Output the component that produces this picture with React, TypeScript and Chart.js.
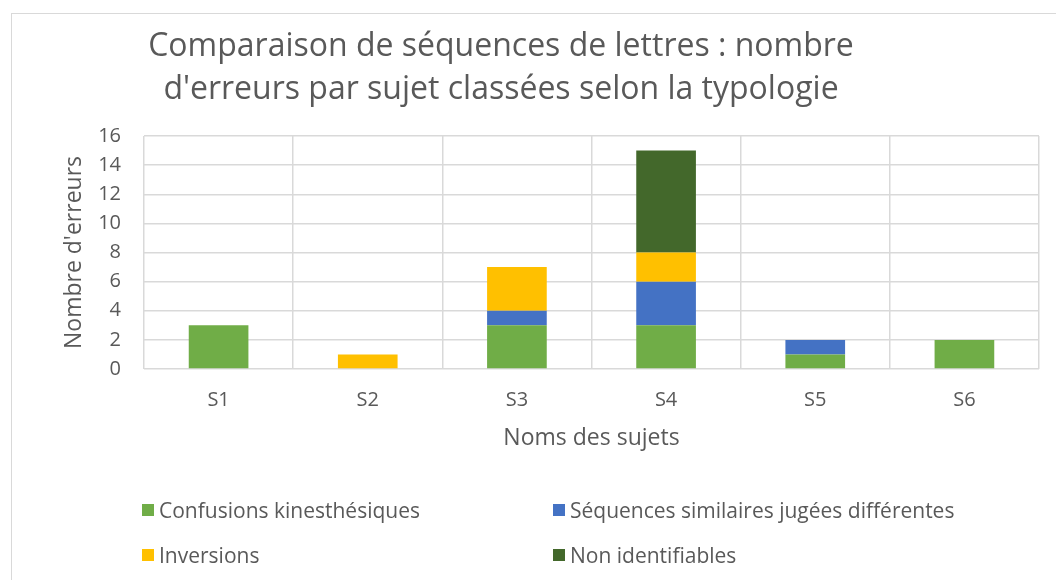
import React, { useEffect, useRef } from "react";
import { Chart, registerables } from "chart.js";

Chart.register(...registerables);

const categories = ["S1", "S2", "S3", "S4", "S5", "S6"];
const seriesNames = [
  "Confusions kinesthésiques",
  "Séquences similaires jugées différentes",
  "Inversions",
  "Non identifiables",
];
const confusions = [3, 0, 3, 3, 1, 2];
const similaires = [0, 0, 1, 3, 1, 0];
const inversions = [0, 1, 3, 2, 0, 0];
const nonIdentifiables = [0, 0, 0, 7, 0, 0];
const seriesColors = ["#70AD47", "#4472C4", "#FFC000", "#43682B"];
const yMin = 0;
const yMax = 16;
const yStep = 2;
const titleLines = [
  "Comparaison de séquences de lettres : nombre",
  "d'erreurs par sujet classées selon la typologie",
];
const xTitle = "Noms des sujets";
const yTitle = "Nombre d'erreurs";

const FONT = "'Open Sans', 'Noto Sans', sans-serif";
const TEXT = "#595959";
const GRID = "#d9d9d9";

const seriesValues = [confusions, similaires, inversions, nonIdentifiables];

export default function App() {
  const ref = useRef<HTMLCanvasElement | null>(null);

  useEffect(() => {
    if (!ref.current) return;
    const chart = new Chart(ref.current, {
      type: "bar",
      data: {
        labels: categories,
        datasets: seriesNames.map((name, i) => ({
          label: name,
          data: seriesValues[i],
          backgroundColor: seriesColors[i],
          borderWidth: 0,
          barPercentage: 0.4,
          categoryPercentage: 1,
        })),
      },
      options: {
        responsive: false,
        animation: false,
        layout: { padding: { left: 0, right: 17, top: 136, bottom: 111 } },
        plugins: {
          legend: { display: false },
          title: { display: false },
          tooltip: { enabled: false },
        },
        scales: {
          x: {
            stacked: true,
            grid: { offset: true, color: GRID, lineWidth: 1.5, drawTicks: false },
            border: { display: false },
            ticks: { color: TEXT, font: { family: FONT, size: 20 }, padding: 19 },
            title: {
              display: true,
              text: xTitle,
              color: TEXT,
              font: { family: FONT, size: 23 },
              padding: { top: 0, bottom: 17 },
            },
            afterFit: (s: any) => {
              s.height = 100;
            },
          },
          y: {
            stacked: true,
            min: yMin,
            max: yMax,
            grid: { color: GRID, lineWidth: 1.5, drawTicks: false },
            border: { display: false },
            ticks: {
              stepSize: yStep,
              color: TEXT,
              font: { family: FONT, size: 20 },
              padding: 23,
            },
            title: {
              display: true,
              text: yTitle,
              color: TEXT,
              font: { family: FONT, size: 23 },
              padding: { top: 61, bottom: 0 },
            },
            afterFit: (s: any) => {
              s.width = 144;
            },
          },
        },
      },
    });
    return () => chart.destroy();
  }, []);

  const legendPos = [
    { left: 142, top: 510 },
    { left: 553, top: 510 },
    { left: 142, top: 555 },
    { left: 553, top: 555 },
  ];

  return (
    <div
      style={{
        position: "absolute",
        left: 0,
        top: 0,
        width: 1056,
        height: 580,
        overflow: "hidden",
        background: "#fff",
        fontFamily: FONT,
      }}
    >
      <div
        style={{
          position: "absolute",
          left: 11,
          top: 13,
          width: 1100,
          height: 700,
          border: `1px solid ${GRID}`,
        }}
      />
      <canvas
        ref={ref}
        width={1056}
        height={580}
        style={{ position: "absolute", left: 0, top: 0, width: 1056, height: 580 }}
      />
      <div
        style={{
          position: "absolute",
          left: 0,
          top: 22,
          width: 1002,
          textAlign: "center",
          fontSize: 32,
          lineHeight: "43px",
          color: TEXT,
        }}
      >
        {titleLines.map((t, i) => (
          <div key={i}>{t}</div>
        ))}
      </div>
      {seriesNames.map((name, i) => (
        <div
          key={name}
          style={{
            position: "absolute",
            left: legendPos[i].left,
            top: legendPos[i].top - 14,
            height: 28,
            display: "flex",
            alignItems: "center",
            fontSize: 21,
            color: TEXT,
            whiteSpace: "nowrap",
          }}
        >
          <span
            style={{
              display: "inline-block",
              width: 12,
              height: 12,
              background: seriesColors[i],
              marginRight: 5,
            }}
          />
          <span>{name}</span>
        </div>
      ))}
    </div>
  );
}
